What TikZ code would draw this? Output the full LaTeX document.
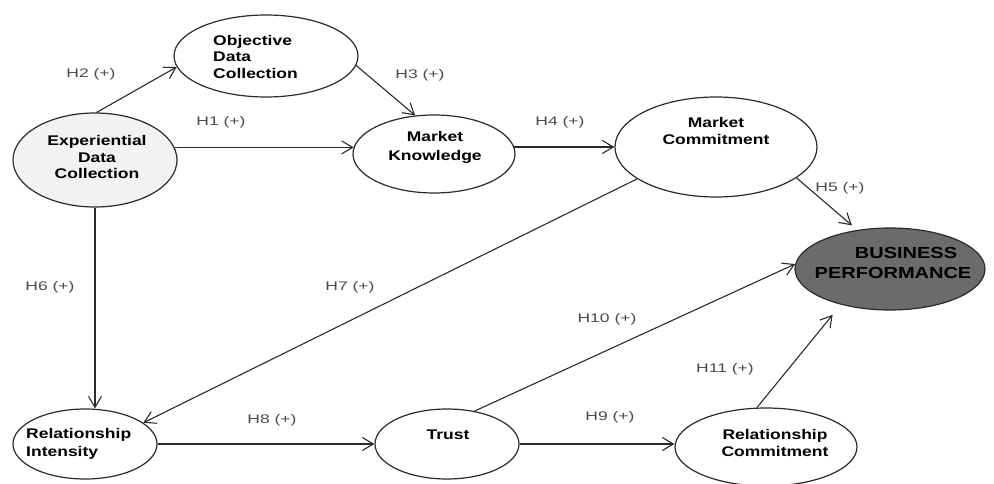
\documentclass[tikz,border=0pt]{standalone}
\usepackage{fontspec}
\usetikzlibrary{shapes.geometric,arrows.meta}
\newfontfamily\nodefont[FakeStretch=1.25]{Liberation Sans}
\newfontfamily\labfont[FakeStretch=1.4]{Liberation Sans}
\definecolor{linec}{HTML}{2A2A2A}
\definecolor{labc}{HTML}{4A4A4A}
\definecolor{lightfill}{HTML}{F2F2F2}
\definecolor{darkfill}{HTML}{6B6B6B}
\begin{document}
\begin{tikzpicture}[x=1pt,y=1pt,
  oval/.style={ellipse,draw=linec,line width=1.2pt,inner sep=0pt},
  txt/.style={font=\nodefont\fontsize{14}{17}\selectfont\bfseries,text=black,inner sep=0pt},
  lab/.style={font=\labfont\fontsize{12.5}{14}\selectfont,text=labc,inner sep=0pt},
  arr/.style={draw=linec,line width=1.1pt,-{Straight Barb[length=11pt,width=13pt,line width=1.1pt]}}]
\useasboundingbox (0,0) rectangle (994,-484);
% ellipses
\node[oval,minimum width=184pt,minimum height=82pt] (odc) at (266,-56) {};
\node[oval,fill=lightfill,minimum width=164pt,minimum height=94pt] (edc) at (95,-160) {};
\node[oval,minimum width=162pt,minimum height=78pt] (mk) at (434,-154) {};
\node[oval,minimum width=202pt,minimum height=100pt] (mc) at (716,-147) {};
\node[oval,fill=darkfill,minimum width=190pt,minimum height=82pt] (bp) at (890,-269) {};
\node[oval,minimum width=144pt,minimum height=70pt] (ri) at (85,-444) {};
\node[oval,minimum width=144pt,minimum height=70pt] (tr) at (447,-444) {};
\node[oval,minimum width=182pt,minimum height=78pt] (rc) at (766,-447) {};
% texts
\node[txt,align=left,anchor=west,font=\nodefont\fontsize{14}{16.5}\selectfont\bfseries] (odct) at (213,-56.5) {Objective\\Data\\Collection};
\node[txt,align=center,font=\nodefont\fontsize{14}{16.5}\selectfont\bfseries] (edct) at (97,-157) {Experiential\\Data\\Collection};
\node[txt,align=center,font=\nodefont\fontsize{14}{18.5}\selectfont\bfseries] (mkt) at (435,-147.5) {Market\\Knowledge};
\node[txt,align=center] (mct) at (716,-130.5) {Market\\Commitment};
\node[txt,align=center,font=\nodefont\fontsize{16}{20}\selectfont\bfseries] (bpt) at (893,-263) {\hspace*{26pt}BUSINESS\\PERFORMANCE};
\node[txt,align=left,anchor=west,font=\nodefont\fontsize{14}{18}\selectfont\bfseries] (rit) at (26,-444) {Relationship\\Intensity};
\node[txt] (trt) at (448,-435) {Trust};
\node[txt,align=center] (rct) at (775,-442.5) {Relationship\\Commitment};
% connectors
\draw[arr] (edc.88) -- (odc.187);
\draw[arr] (odc.-6) -- (mk.116);
\draw[arr] (edc.9.4) -- (mk.175 |- edc.9.4);
\draw[arr] (mk.5) -- (mc.west |- mk.5);
\draw[arr,shorten >=7pt] (mc.-21.4) -- (bp.130);
\draw[arr] (edc.south) -- (edc.south |- ri.north);
\draw[arr] (mc.202.7) -- (ri.20.9);
\draw[arr] (ri.east) -- (tr.west);
\draw[arr] (tr.east) -- (rc.west |- tr.east);
\draw[arr] (tr.50) -- (bp.177);
\draw[arr,shorten >=13pt] (rc.103) -- (bp.216);
% labels
\node[lab] (l2) at (91,-74) {H2 (+)};
\node[lab] (l1) at (221,-122) {H1 (+)};
\node[lab] (l3) at (420,-75) {H3 (+)};
\node[lab] (l4) at (560,-122) {H4 (+)};
\node[lab] (l5) at (840,-188) {H5 (+)};
\node[lab] (l6) at (50,-287) {H6 (+)};
\node[lab] (l7) at (350,-287) {H7 (+)};
\node[lab] (l8) at (272,-420) {H8 (+)};
\node[lab] (l9) at (610,-417) {H9 (+)};
\node[lab] (l10) at (607,-319) {H10 (+)};
\node[lab] (l11) at (725,-369) {H11 (+)};
\end{tikzpicture}
\end{document}
